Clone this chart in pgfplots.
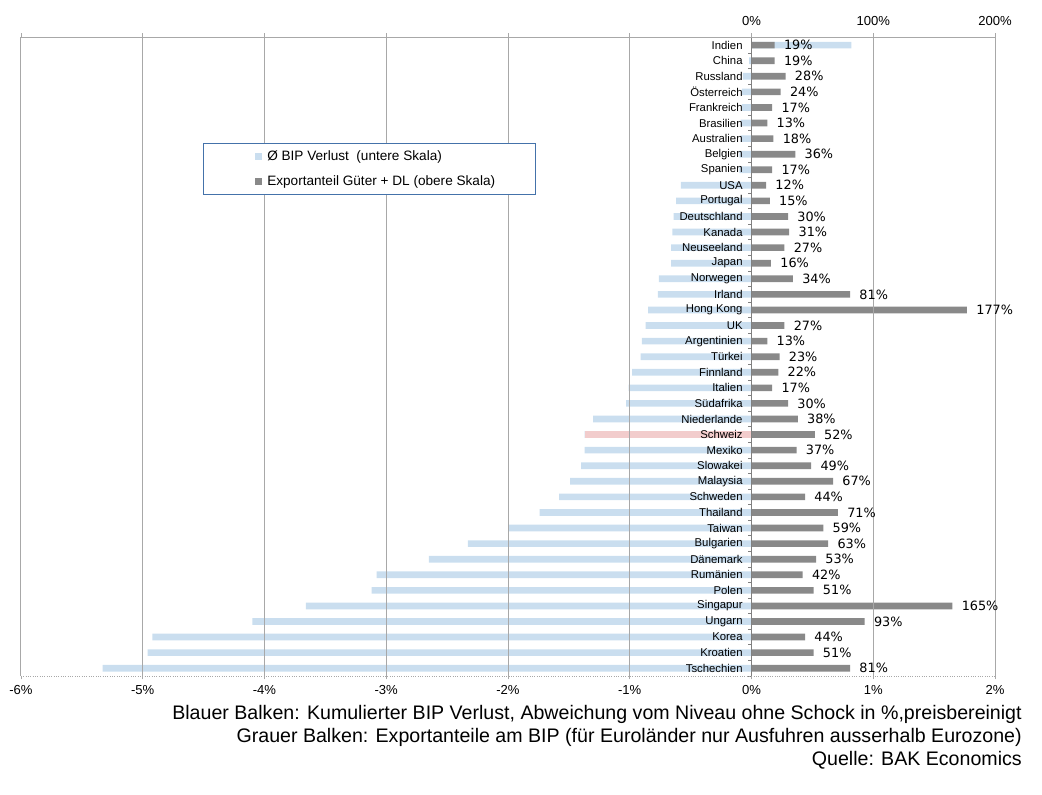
\documentclass[border=0pt]{standalone}
\usepackage{pgfplots}
\usepackage{pgfplotstable}
\pgfplotsset{compat=1.18}
\usepackage{fontspec}
\setmainfont{Liberation Sans}
\newfontfamily\labelfont{DejaVu Sans}

\definecolor{bipblue}{RGB}{202,222,239}
\definecolor{chpink}{RGB}{242,204,204}
\definecolor{expgrey}{RGB}{137,137,137}
\definecolor{gridgrey}{RGB}{168,168,168}
\definecolor{framegrey}{RGB}{128,128,128}
\definecolor{legendblue}{RGB}{68,114,170}

% loss: cumulative GDP loss in % (lower scale), exp: export share in % of GDP (upper scale)
\pgfplotstableread[col sep=comma]{
name,loss,exp
Indien,0.82,19
China,-0.02,19
Russland,-0.07,28
Österreich,-0.08,24
Frankreich,-0.08,17
Brasilien,-0.09,13
Australien,-0.09,18
Belgien,-0.10,36
Spanien,-0.10,17
USA,-0.58,12
Portugal,-0.62,15
Deutschland,-0.64,30
Kanada,-0.65,31
Neuseeland,-0.66,27
Japan,-0.66,16
Norwegen,-0.76,34
Irland,-0.77,81
Hong Kong,-0.85,177
UK,-0.87,27
Argentinien,-0.90,13
Türkei,-0.91,23
Finnland,-0.98,22
Italien,-1.01,17
Südafrika,-1.03,30
Niederlande,-1.30,38
Schweiz,-1.37,52
Mexiko,-1.37,37
Slowakei,-1.40,49
Malaysia,-1.49,67
Schweden,-1.58,44
Thailand,-1.74,71
Taiwan,-2.00,59
Bulgarien,-2.33,63
Dänemark,-2.65,53
Rumänien,-3.08,42
Polen,-3.12,51
Singapur,-3.66,165
Ungarn,-4.10,93
Korea,-4.92,44
Kroatien,-4.96,51
Tschechien,-5.33,81
}\bipdata

\begin{document}
\begin{tikzpicture}
\useasboundingbox (-15.75pt,-88.5pt) rectangle (765.75pt,507pt);
\begin{axis}[
  at={(0pt,0pt)}, anchor=south west,
  scale only axis, width=730.5pt, height=479pt,
  xmin=-6, xmax=2, ymin=-0.5, ymax=40.5, y dir=reverse,
  axis x line*=bottom, axis y line=none,
  x axis line style={densely dotted, gridgrey, line width=0.75pt},
  xtick={-6,...,2},
  xticklabels={-6\%,-5\%,-4\%,-3\%,-2\%,-1\%,0\%,1\%,2\%},
  xticklabel style={font=\fontsize{9.8}{11}\selectfont, yshift=-1pt},
  ytick=\empty,
  tick align=outside, major tick length=2.5pt,
  tick style={gridgrey, line width=0.6pt},
  xmajorgrids, grid style={gridgrey, line width=0.75pt},
  extra x ticks={0}, extra x tick labels={},
  extra x tick style={grid style={framegrey, line width=0.75pt}},
  axis on top,
  clip=false,
  bar width=5pt,
  /pgf/number format/assume math mode=true,
  legend style={at={(axis description cs:0.1869,0.834)}, anchor=north west,
    draw=legendblue, line width=0.75pt, inner xsep=0pt, inner ysep=3pt,
    font=\fontsize{10.2}{12}\selectfont, row sep=6pt},
  legend cell align=left,
  legend image code/.code={\path (-38.5pt,0pt); \fill[#1] (0pt,-2.6pt) rectangle (5.3pt,2.8pt);},
]
% GDP loss (lower scale)
\addplot[xbar, bar shift=0pt, fill=bipblue, draw=none]
  table[x=loss, y expr=\coordindex] {\bipdata};
\addlegendentry{\makebox[201pt][l]{\hspace{2pt}Ø BIP Verlust\ \ (untere Skala)}}
% Switzerland highlighted
\addplot[xbar, bar shift=0pt, fill=chpink, draw=none, forget plot,
  skip coords between index={0}{25}, skip coords between index={26}{41}]
  table[x=loss, y expr=\coordindex] {\bipdata};
% export share (upper scale, 100% = 1 unit)
\addplot[xbar, bar shift=0pt, fill=expgrey, draw=none, point meta=explicit,
  nodes near coords={\pgfmathprintnumber{\pgfplotspointmeta}\%},
  nodes near coords style={anchor=west, font=\labelfont\fontsize{9.6}{11}\selectfont, xshift=3.5pt, text=black}]
  table[x expr=\thisrow{exp}/100, y expr=\coordindex, meta=exp] {\bipdata};
\addlegendentry{\makebox[201pt][l]{\hspace{2pt}Exportanteil Güter + DL (obere Skala)}}
% country names next to the zero line
\addplot[forget plot, draw=none, mark=none, point meta=explicit symbolic,
  nodes near coords,
  nodes near coords style={anchor=east, font=\fontsize{8.5}{9}\selectfont, inner sep=0pt, xshift=-6.5pt, text=black}]
  table[x expr=0, y expr=\coordindex, meta=name] {\bipdata};
\pgfplotsinvokeforeach{0,...,41}{
  \draw[framegrey, line width=0.6pt] (axis cs:0,#1-0.5) -- ++(-2.5pt,0pt);
}
\end{axis}
% upper scale
\begin{axis}[
  at={(0pt,0pt)}, anchor=south west,
  scale only axis, width=730.5pt, height=479pt,
  xmin=-6, xmax=2, ymin=0, ymax=1,
  axis x line*=top, axis y line=none,
  x axis line style={gridgrey, line width=0.75pt},
  xtick={-6,...,2}, xticklabels={,,,,,,0\%,100\%,200\%},
  xticklabel style={font=\fontsize{9.8}{11}\selectfont, yshift=2pt},
  ytick=\empty,
  tick align=outside, major tick length=3pt,
  tick style={gridgrey, line width=0.6pt},
]
\end{axis}
\begin{scope}[every node/.style={anchor=east, inner sep=0pt, font=\fontsize{14.7}{17}\selectfont}]
\node at (750.75pt,-28.9pt) {Blauer Balken: Kumulierter BIP Verlust, Abweichung vom Niveau ohne Schock in \%,preisbereinigt};
\node at (750.75pt,-46.2pt) {Grauer Balken: Exportanteile am BIP (für Euroländer nur Ausfuhren ausserhalb Eurozone)};
\node at (750.75pt,-63.5pt) {Quelle: BAK Economics};
\end{scope}
\end{tikzpicture}
\end{document}
